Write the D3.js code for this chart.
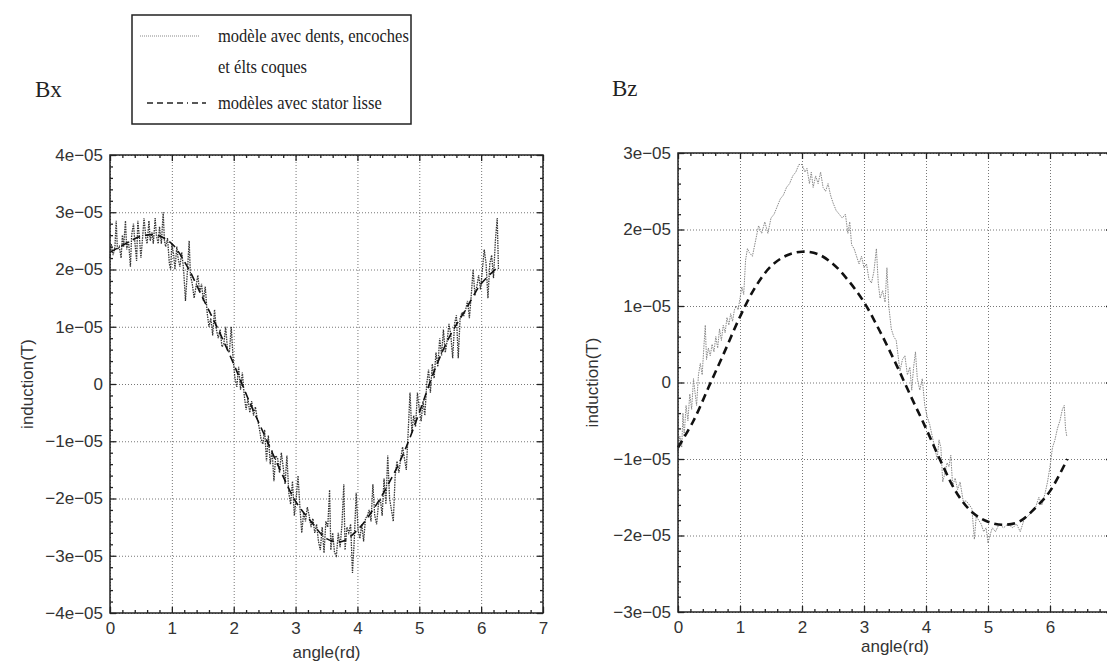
<!DOCTYPE html>
<html>
<head>
<meta charset="utf-8">
<script src="https://cdn.jsdelivr.net/npm/d3@7"></script>
<style>
  body { margin: 0; background: #fff; }
  .tick text { font-family: "Liberation Sans", Arial, sans-serif; fill: #333; }
</style>
</head>
<body>
<div id="chart"></div>
<script>
// values are in units of 1e-05 T, angles in rd

let angleTicks = [0, 1, 2, 3, 4, 5, 6, 7];
let bxTicks = [-4, -3, -2, -1, 0, 1, 2, 3, 4];
let bzTicks = [-3, -2, -1, 0, 1, 2, 3];

let legendLabels = ["modèle avec dents, encoches", "et élts coques", "modèles avec stator lisse"];

// smooth stator model (dashed)
let smoothAngle = [0, 0.25, 0.5, 0.75, 1, 1.25, 1.5, 1.75, 2, 2.25, 2.5, 2.75, 3, 3.25,
  3.5, 3.75, 4, 4.25, 4.5, 4.75, 5, 5.25, 5.5, 5.75, 6, 6.28];
let bxSmooth = [2.3, 2.45, 2.58, 2.6, 2.45, 2.05, 1.5, 0.95, 0.35, -0.3, -0.9, -1.5, -2.05, -2.4,
  -2.7, -2.75, -2.55, -2.2, -1.75, -1.2, -0.5, 0.25, 0.85, 1.3, 1.75, 2.05];
let bzSmooth = [-0.85, -0.5, -0.05, 0.4, 0.86, 1.25, 1.52, 1.66, 1.71, 1.68, 1.55, 1.33, 1.05, 0.68,
  0.27, -0.17, -0.6, -1.05, -1.45, -1.7, -1.82, -1.86, -1.82, -1.65, -1.42, -1.0];

// model with teeth, slots and shell elements (dotted)
let bxTeeth = [[0,2.2],[0.02,2.45],[0.05,2.25],[0.08,2.4],[0.1,2.85],[0.12,2.35],[0.15,2.4],[0.18,2.2],
  [0.2,2.6],[0.22,2.4],[0.25,2.85],[0.27,2.35],[0.3,2.5],[0.33,2.05],[0.35,2.6],[0.38,2.8],[0.4,2.5],
  [0.43,2.15],[0.45,2.85],[0.48,2.5],[0.5,2.2],[0.53,2.6],[0.55,2.9],[0.58,2.55],[0.6,2.45],[0.63,2.85],
  [0.65,2.5],[0.68,2.65],[0.7,2.45],[0.73,2.9],[0.75,2.6],[0.78,2.45],[0.8,2.75],[0.83,2.45],[0.86,3.0],
  [0.88,2.5],[0.9,2.4],[0.93,2.55],[0.96,2.1],[0.98,2.0],[1.0,2.45],[1.03,2.25],[1.05,2.0],[1.08,2.4],
  [1.1,2.2],[1.13,2.05],[1.16,2.3],[1.19,2.0],[1.22,1.45],[1.25,1.95],[1.28,2.5],[1.3,1.9],[1.33,1.75],
  [1.36,1.5],[1.39,1.7],[1.42,1.9],[1.45,1.6],[1.48,1.75],[1.51,1.45],[1.54,1.7],[1.57,1.25],[1.6,1.0],
  [1.63,1.15],[1.66,0.85],[1.69,1.3],[1.72,0.95],[1.75,0.8],[1.78,0.95],[1.81,0.65],[1.84,0.7],[1.87,1.0],
  [1.9,0.6],[1.93,0.55],[1.96,1.0],[1.99,0.45],[2.02,0.1],[2.05,-0.05],[2.08,0.3],[2.11,-0.1],[2.14,0.2],
  [2.17,-0.2],[2.2,-0.45],[2.23,-0.25],[2.26,-0.5],[2.29,-0.3],[2.32,-0.55],[2.35,-0.4],[2.38,-0.6],
  [2.41,-0.75],[2.44,-0.95],[2.47,-1.05],[2.5,-0.8],[2.53,-1.35],[2.56,-0.9],[2.59,-1.4],[2.62,-1.15],
  [2.65,-1.7],[2.68,-1.25],[2.71,-1.3],[2.74,-1.55],[2.77,-1.2],[2.8,-1.45],[2.83,-1.75],[2.86,-1.25],
  [2.89,-1.9],[2.92,-2.1],[2.95,-1.7],[2.98,-2.3],[3.01,-2.0],[3.04,-1.6],[3.07,-2.15],[3.1,-2.6],
  [3.13,-2.25],[3.16,-2.4],[3.19,-2.15],[3.22,-2.3],[3.25,-2.5],[3.28,-2.35],[3.31,-2.6],[3.34,-2.45],
  [3.37,-2.75],[3.4,-2.9],[3.43,-2.5],[3.46,-2.95],[3.49,-2.4],[3.52,-2.5],[3.55,-1.85],[3.57,-2.9],
  [3.6,-2.6],[3.63,-2.95],[3.66,-3.0],[3.69,-2.6],[3.72,-2.85],[3.75,-2.45],[3.78,-1.75],[3.8,-2.9],
  [3.83,-2.5],[3.86,-2.6],[3.89,-2.45],[3.92,-3.3],[3.95,-2.7],[3.98,-1.9],[4.01,-2.55],[4.04,-2.7],
  [4.07,-2.45],[4.1,-2.75],[4.13,-2.35],[4.16,-2.3],[4.19,-2.2],[4.22,-2.4],[4.25,-1.75],[4.28,-2.3],
  [4.31,-2.45],[4.34,-2.1],[4.37,-2.0],[4.4,-2.3],[4.43,-1.65],[4.46,-2.1],[4.49,-1.25],[4.52,-2.0],
  [4.55,-2.2],[4.58,-2.4],[4.61,-1.6],[4.64,-1.35],[4.67,-1.55],[4.7,-1.3],[4.73,-1.1],[4.76,-1.3],
  [4.79,-1.5],[4.82,-0.85],[4.85,-0.15],[4.88,-0.85],[4.91,-0.55],[4.94,-0.75],[4.97,-0.15],[5.0,-0.45],
  [5.03,-0.65],[5.06,-0.3],[5.09,-0.55],[5.12,0.0],[5.15,0.25],[5.18,-0.15],[5.21,0.35],[5.24,0.1],
  [5.27,0.55],[5.3,0.3],[5.33,0.8],[5.36,0.5],[5.39,0.95],[5.42,0.55],[5.45,0.75],[5.48,1.05],[5.51,0.85],
  [5.54,0.45],[5.57,1.05],[5.6,1.2],[5.63,0.45],[5.66,1.15],[5.69,1.25],[5.72,1.2],[5.75,1.3],[5.78,1.45],
  [5.81,1.15],[5.84,1.55],[5.87,2.0],[5.9,1.55],[5.93,1.7],[5.96,1.9],[5.99,1.65],[6.02,2.0],[6.05,2.35],
  [6.08,2.1],[6.11,1.5],[6.14,2.1],[6.17,2.25],[6.2,1.85],[6.23,2.5],[6.26,2.9],[6.28,2.0]];

let bzTeeth = [[0,-0.9],[0.03,-0.7],[0.06,-0.85],[0.08,-0.4],[0.1,-0.7],[0.13,-0.3],[0.16,-0.5],[0.19,-0.15],
  [0.22,-0.35],[0.25,0.05],[0.27,-0.1],[0.3,-0.3],[0.33,0.1],[0.36,0.25],[0.39,0.1],[0.42,0.5],[0.44,0.75],
  [0.46,0.3],[0.49,0.45],[0.52,0.35],[0.55,0.5],[0.58,0.4],[0.61,0.6],[0.64,0.45],[0.67,0.7],[0.7,0.55],
  [0.73,0.75],[0.76,0.65],[0.79,0.85],[0.82,0.75],[0.85,0.9],[0.88,0.8],[0.91,0.95],[0.94,1.0],[0.97,0.95],
  [1.0,1.1],[1.03,1.25],[1.06,1.15],[1.09,1.6],[1.12,1.75],[1.15,1.7],[1.2,1.65],[1.25,1.85],[1.3,2.05],
  [1.35,1.95],[1.4,2.1],[1.45,1.95],[1.5,2.15],[1.55,2.2],[1.6,2.3],[1.65,2.4],[1.7,2.45],[1.75,2.55],
  [1.8,2.6],[1.85,2.7],[1.9,2.75],[1.95,2.85],[2.0,2.85],[2.05,2.75],[2.08,2.8],[2.12,2.6],[2.15,2.75],
  [2.18,2.55],[2.22,2.7],[2.26,2.6],[2.3,2.75],[2.34,2.55],[2.38,2.5],[2.42,2.6],[2.46,2.45],[2.5,2.35],
  [2.55,2.25],[2.6,2.2],[2.65,2.15],[2.7,2.2],[2.74,1.95],[2.77,2.1],[2.8,1.8],[2.84,1.75],[2.88,1.65],
  [2.92,1.55],[2.96,1.65],[3.0,1.5],[3.04,1.55],[3.08,1.35],[3.12,1.3],[3.16,1.45],[3.2,1.75],[3.23,1.3],
  [3.26,1.1],[3.3,1.2],[3.34,1.05],[3.37,1.5],[3.4,1.0],[3.44,0.7],[3.48,0.6],[3.52,0.55],[3.55,0.35],
  [3.58,0.15],[3.62,0.3],[3.66,0.35],[3.7,0.1],[3.74,0.2],[3.77,-0.1],[3.8,0.2],[3.83,0.4],[3.86,0.05],
  [3.9,-0.1],[3.94,0.05],[3.98,-0.3],[4.02,-0.45],[4.06,-0.55],[4.1,-0.7],[4.14,-0.85],[4.18,-1.0],
  [4.21,-0.75],[4.24,-0.85],[4.27,-1.3],[4.3,-1.2],[4.34,-1.05],[4.37,-1.1],[4.4,-0.95],[4.43,-1.35],
  [4.47,-1.25],[4.51,-1.4],[4.55,-1.3],[4.6,-1.55],[4.65,-1.55],[4.7,-1.6],[4.74,-1.65],[4.78,-2.05],
  [4.81,-1.75],[4.85,-1.8],[4.89,-1.85],[4.93,-1.95],[4.97,-1.9],[5.0,-2.1],[5.03,-2.0],[5.07,-1.9],
  [5.12,-1.95],[5.18,-1.85],[5.25,-1.9],[5.32,-1.85],[5.4,-1.9],[5.46,-1.85],[5.52,-1.95],[5.58,-1.8],
  [5.64,-1.75],[5.7,-1.7],[5.76,-1.65],[5.82,-1.5],[5.87,-1.6],[5.92,-1.45],[5.96,-1.3],[6.0,-1.1],
  [6.04,-0.85],[6.08,-0.75],[6.12,-0.6],[6.16,-0.5],[6.2,-0.35],[6.23,-0.3],[6.25,-0.6],[6.27,-0.7]];

let width = 1107;
let height = 663;

let svg = d3
    .select("#chart")
    .append("svg")
    .attr("width", width)
    .attr("height", height)
    .style("background", "#fff");

// minor ticks, every 0.2 rd and every 2e-06 T
function minorValues(lo, hi) {
  let out = [];
  for (let i = Math.round(lo * 5); i <= Math.round(hi * 5); i++) {
    if (i % 5 !== 0) out.push(i / 5);
  }
  return out;
}

function fmtY(d) {
  return d === 0 ? "0" : (d < 0 ? "\u2212" : "") + Math.abs(d) + "e\u221205";
}

function drawPanel(p) {
  let x = d3.scaleLinear().domain([0, 7]).range([p.left, p.right]);
  let y = d3.scaleLinear().domain([p.ticks[0], p.ticks[p.ticks.length - 1]]).range([p.bottom, p.top]);
  let w = p.right - p.left, h = p.bottom - p.top;
  let g = svg.append("g");

  // dotted grid
  let gx = g.append("g").attr("transform", "translate(0," + p.bottom + ")")
    .call(d3.axisBottom(x).tickValues(angleTicks).tickSize(-h).tickFormat(""));
  let gy = g.append("g").attr("transform", "translate(" + p.left + ",0)")
    .call(d3.axisLeft(y).tickValues(p.ticks).tickSize(-w).tickFormat(""));
  [gx, gy].forEach((a) => {
    a.select(".domain").remove();
    a.selectAll("line").attr("stroke", "#777").attr("stroke-width", 1).attr("stroke-dasharray", "1,2");
  });

  // curves
  let teeth = d3.line().x((d) => x(d[0])).y((d) => y(d[1]));
  g.append("path")
    .datum(p.teeth)
    .attr("d", teeth)
    .attr("fill", "none")
    .attr("stroke", p.teethColor)
    .attr("stroke-width", p.teethWidth)
    .attr("stroke-dasharray", "1.5,1");

  let smooth = d3.line()
      .x((d, i) => x(smoothAngle[i]))
      .y((d) => y(d))
      .curve(d3.curveCatmullRom);
  g.append("path")
    .datum(p.smooth)
    .attr("d", smooth)
    .attr("fill", "none")
    .attr("stroke", "#111")
    .attr("stroke-width", p.dashWidth)
    .attr("stroke-dasharray", "8,5");

  // frame
  g.append("rect")
    .attr("x", p.left).attr("y", p.top)
    .attr("width", w).attr("height", h)
    .attr("fill", "none").attr("stroke", "#222").attr("stroke-width", 1.5);

  // ticks pointing inwards on the four sides
  let axes = [
    [d3.axisBottom(x), "translate(0," + p.bottom + ")", angleTicks, true],
    [d3.axisTop(x), "translate(0," + p.top + ")", angleTicks, false],
    [d3.axisLeft(y), "translate(" + p.left + ",0)", p.ticks, true],
    [d3.axisRight(y), "translate(" + p.right + ",0)", p.ticks, false]
  ];
  axes.forEach(([axis, tr, major, labelled]) => {
    let isX = major === angleTicks;
    let dom = isX ? [0, 7] : [p.ticks[0], p.ticks[p.ticks.length - 1]];
    let minor = g.append("g").attr("transform", tr)
      .call(axis.tickValues(minorValues(dom[0], dom[1])).tickSize(-3).tickFormat(""));
    minor.select(".domain").remove();
    let xFmt = (d) => (x(d) > width ? "" : d3.format("d")(d));
    let maj = g.append("g").attr("transform", tr)
      .call(axis.tickValues(major).tickSize(-6).tickPadding(isX ? 9 : 7)
        .tickFormat(labelled ? (isX ? xFmt : fmtY) : ""));
    maj.select(".domain").remove();
    g.selectAll("line").filter(function () { return !this.getAttribute("stroke-dasharray"); })
      .attr("stroke", "#222").attr("stroke-width", 1.3);
    maj.selectAll("text").style("font-size", "17px");
  });

  // axis titles
  g.append("text")
    .attr("x", x(3.5)).attr("y", p.xTitleY)
    .attr("text-anchor", "middle")
    .style("font-family", "Liberation Sans, Arial, sans-serif")
    .style("font-size", "17px").attr("fill", "#333")
    .text("angle(rd)");
  g.append("text")
    .attr("transform", "translate(" + p.yTitleX + "," + y(0) + ") rotate(-90)")
    .attr("text-anchor", "middle")
    .style("font-family", "Liberation Sans, Arial, sans-serif")
    .style("font-size", "17px").attr("fill", "#333")
    .text("induction(T)");

  svg.append("text")
    .attr("x", p.nameX).attr("y", p.nameY)
    .style("font-family", "Liberation Serif, Times New Roman, serif")
    .style("font-size", "23px").attr("fill", "#222")
    .text(p.name);
}

drawPanel({
  name: "Bx", nameX: 35, nameY: 97,
  left: 110, right: 543, top: 155, bottom: 613,
  ticks: bxTicks, smooth: bxSmooth, teeth: bxTeeth,
  teethColor: "#333", teethWidth: 1.3, dashWidth: 1.6,
  xTitleY: 658, yTitleX: 33
});

drawPanel({
  name: "Bz", nameX: 612, nameY: 96,
  left: 678, right: 1112, top: 153, bottom: 612,
  ticks: bzTicks, smooth: bzSmooth, teeth: bzTeeth,
  teethColor: "#888", teethWidth: 1, dashWidth: 2.6,
  xTitleY: 652, yTitleX: 598
});

// Legend
let legend = svg.append("g");
legend.append("rect")
  .attr("x", 132).attr("y", 15)
  .attr("width", 279).attr("height", 109)
  .attr("fill", "#fff").attr("stroke", "#222").attr("stroke-width", 1.5);
legend.append("line")
  .attr("x1", 140).attr("x2", 200).attr("y1", 36).attr("y2", 36)
  .attr("stroke", "#888").attr("stroke-width", 1).attr("stroke-dasharray", "1,1");
legend.append("line")
  .attr("x1", 147).attr("x2", 206).attr("y1", 103).attr("y2", 103)
  .attr("stroke", "#222").attr("stroke-width", 1.5).attr("stroke-dasharray", "6,4,6,4,6,4,6,4,1,4");
legend.selectAll("text.lab")
  .data(legendLabels)
  .enter()
  .append("text")
  .attr("class", "lab")
  .attr("transform", (d, i) => "translate(218," + [42, 73, 109][i] + ") scale(0.87,1)")
  .style("font-family", "Liberation Serif, Times New Roman, serif")
  .style("font-size", "19px")
  .attr("fill", "#222")
  .text((d) => d);
</script>
</body>
</html>
